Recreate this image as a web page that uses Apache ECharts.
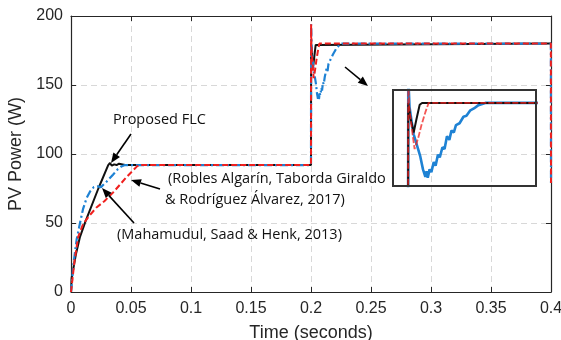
<!DOCTYPE html>
<html>
<head>
<meta charset="utf-8">
<script src="https://cdn.jsdelivr.net/npm/echarts@6/dist/echarts.min.js"></script>
<style>html,body{margin:0;padding:0;background:#fff;}#c{width:561px;height:340px;}</style>
</head>
<body>
<div id="c"></div>
<script>
// ---- data ----
const xTicks = [0, 0.05, 0.1, 0.15, 0.2, 0.25, 0.3, 0.35, 0.4];
const yTicks = [0, 50, 100, 150, 200];

const flcTime  = [0, 0.0005, 0.004, 0.0075, 0.012, 0.0228, 0.031, 0.0325, 0.034, 0.036, 0.038, 0.04, 0.045, 0.05, 0.2, 0.2001, 0.2008, 0.2019, 0.2028, 0.2039, 0.2047, 0.4];
const flcPower = [0, 10, 27, 40, 51, 75, 92, 93.5, 91.5, 92.5, 92, 93, 92, 92, 92, 180, 172, 164, 171, 179, 180, 180];

const roblesTime  = [0, 0.002, 0.0047, 0.0075, 0.01, 0.013, 0.016, 0.019, 0.022, 0.025, 0.0297, 0.035, 0.039, 0.042, 0.045, 0.2, 0.2001, 0.2005, 0.2012, 0.2019, 0.203, 0.2041, 0.205, 0.2058, 0.2062, 0.2066, 0.2072, 0.2078, 0.2086, 0.2092, 0.21, 0.2106, 0.2115, 0.2122, 0.213, 0.2138, 0.2145, 0.2153, 0.216, 0.2172, 0.2185, 0.2195, 0.2208, 0.222, 0.2235, 0.2258, 0.3999, 0.4];
const roblesPower = [0, 20, 38, 50, 60, 68, 73, 76, 76.5, 76, 80, 85, 89, 91, 92, 92, 194, 178, 170, 163, 157, 151, 144, 140, 143, 139.5, 144, 142.5, 148, 146, 152, 150.5, 156, 155, 162, 160, 165, 164, 168, 169, 172.5, 173, 176, 177, 178.8, 180, 180, 79];

const mahamudulTime  = [0, 0.003, 0.006, 0.01, 0.015, 0.021, 0.028, 0.035, 0.04, 0.046, 0.051, 0.055, 0.057, 0.2, 0.2001, 0.2004, 0.2012, 0.2022, 0.2034, 0.2045, 0.2058, 0.2069, 0.3999, 0.4];
const mahamudulPower = [0, 23, 40, 49, 55, 61, 66, 72, 77, 83, 87.5, 91, 92, 92, 194, 178, 167, 155, 161, 168, 175, 180, 180, 79];

const annotationTexts = [
  'Proposed FLC',
  '(Robles Algarín, Taborda Giraldo',
  '& Rodríguez Álvarez, 2017)',
  '(Mahamudul, Saad & Henk, 2013)'
];
// ---------------------------------------

const zip = (t, v) => t.map((x, i) => [x, v[i]]);
const BLACK = '#111111', BLUE = '#1e82d4', RED = '#f0201e';
const AX = '#262626';
const FONT = '"Liberation Sans", Arial, sans-serif';
const ANNOT_FONT = '"Open Sans", sans-serif';

function arrow(x1, y1, x2, y2) {
  const L = 10, W = 4;
  const dx = x2 - x1, dy = y2 - y1, len = Math.hypot(dx, dy);
  const ux = dx / len, uy = dy / len;
  const bx = x2 - ux * L, by = y2 - uy * L;
  return [
    { type: 'line', shape: { x1: x1, y1: y1, x2: bx, y2: by }, style: { stroke: '#000', lineWidth: 1.6 }, z: 100 },
    { type: 'polygon', shape: { points: [[x2, y2], [bx - uy * W, by + ux * W], [bx + uy * W, by - ux * W]] }, style: { fill: '#000' }, z: 100 }
  ];
}

function lineSeries(name, t, v, color, type, width, xi, yi, opacity) {
  return {
    name: name, type: 'line', data: zip(t, v), xAxisIndex: xi, yAxisIndex: yi,
    showSymbol: false, symbol: 'none', clip: true, animation: false,
    lineStyle: { color: color, width: width, type: type, opacity: opacity === undefined ? 1 : opacity }
  };
}

const chart = echarts.init(document.getElementById('c'), null, { renderer: 'canvas' });
const splitStyle = { show: true, lineStyle: { color: '#d8d8d8', type: [6, 4], width: 1 } };

const option = {
  animation: false,
  backgroundColor: '#fff',
  grid: [
    { left: 71, top: 16, width: 480, height: 276, show: false, containLabel: false, outerBoundsMode: 'none' },
    { left: 393, top: 90, width: 143, height: 96, show: true, borderColor: '#333', borderWidth: 2, backgroundColor: 'transparent', z: 5, containLabel: false, outerBoundsMode: 'none' }
  ],
  xAxis: [
    { type: 'value', gridIndex: 0, min: 0, max: 0.4, interval: 0.05, position: 'bottom',
      axisLine: { show: true, onZero: false, lineStyle: { color: AX, width: 1.2 } },
      axisTick: { show: true, inside: true, length: 5, lineStyle: { color: AX } },
      axisLabel: { fontSize: 16, color: AX, fontFamily: FONT, margin: 9,
        formatter: v => { const m = xTicks.find(t => Math.abs(t - v) < 1e-9); return String(m !== undefined ? m : v); } },
      splitLine: splitStyle,
      name: 'Time (seconds)', nameLocation: 'middle', nameGap: 32,
      nameTextStyle: { fontSize: 18, color: AX, fontFamily: FONT } },
    { type: 'value', gridIndex: 0, min: 0, max: 0.4, interval: 0.05, position: 'top',
      axisLine: { show: true, onZero: false, lineStyle: { color: AX, width: 1.2 } },
      axisTick: { show: true, inside: true, length: 5, lineStyle: { color: AX } },
      axisLabel: { show: false }, splitLine: { show: false } },
    { type: 'value', gridIndex: 1, min: 0.195, max: 0.2427, show: false, splitLine: { show: false } }
  ],
  yAxis: [
    { type: 'value', gridIndex: 0, min: 0, max: 200, interval: 50, position: 'left',
      axisLine: { show: true, onZero: false, lineStyle: { color: AX, width: 1.2 } },
      axisTick: { show: true, inside: true, length: 5, lineStyle: { color: AX } },
      axisLabel: { fontSize: 16, color: AX, fontFamily: FONT, margin: 8 },
      splitLine: splitStyle,
      name: 'PV Power (W)', nameLocation: 'middle', nameGap: 39,
      nameTextStyle: { fontSize: 18, color: AX, fontFamily: FONT } },
    { type: 'value', gridIndex: 0, min: 0, max: 200, interval: 50, position: 'right',
      axisLine: { show: true, onZero: false, lineStyle: { color: AX, width: 1.2 } },
      axisTick: { show: true, inside: true, length: 5, lineStyle: { color: AX } },
      axisLabel: { show: false }, splitLine: { show: false } },
    { type: 'value', gridIndex: 1, min: 135, max: 187, show: false, splitLine: { show: false } }
  ],
  series: [
    lineSeries('Proposed FLC', flcTime, flcPower, BLACK, 'solid', 2, 0, 0),
    lineSeries('Robles', roblesTime, roblesPower, BLUE, [8, 3, 2, 3], 2.2, 0, 0),
    lineSeries('Mahamudul', mahamudulTime, mahamudulPower, RED, [6, 3], 2, 0, 0),
    lineSeries('Robles inset', roblesTime, roblesPower, BLUE, 'solid', 2.6, 2, 2),
    lineSeries('Proposed FLC inset', flcTime, flcPower, BLACK, 'solid', 2, 2, 2),
    lineSeries('Mahamudul inset', mahamudulTime, mahamudulPower, RED, [6, 2], 1.8, 2, 2, 0.75)
  ],
  graphic: [
    { type: 'text', left: 113, top: 112, z: 100, style: { text: annotationTexts[0], font: '14.5px ' + ANNOT_FONT, fill: '#111' } },
    { type: 'text', left: 168, top: 171, z: 100, style: { text: annotationTexts[1], font: '14.5px ' + ANNOT_FONT, fill: '#111' } },
    { type: 'text', left: 165, top: 192, z: 100, style: { text: annotationTexts[2], font: '14.5px ' + ANNOT_FONT, fill: '#111' } },
    { type: 'text', left: 117, top: 227, z: 100, style: { text: annotationTexts[3], font: '14.5px ' + ANNOT_FONT, fill: '#111' } },
    ...arrow(131, 134, 111, 163),
    ...arrow(160, 189, 131, 180),
    ...arrow(134, 223, 102, 188),
    ...arrow(345, 67, 368, 86)
  ]
};
chart.setOption(option);
</script>
</body>
</html>
